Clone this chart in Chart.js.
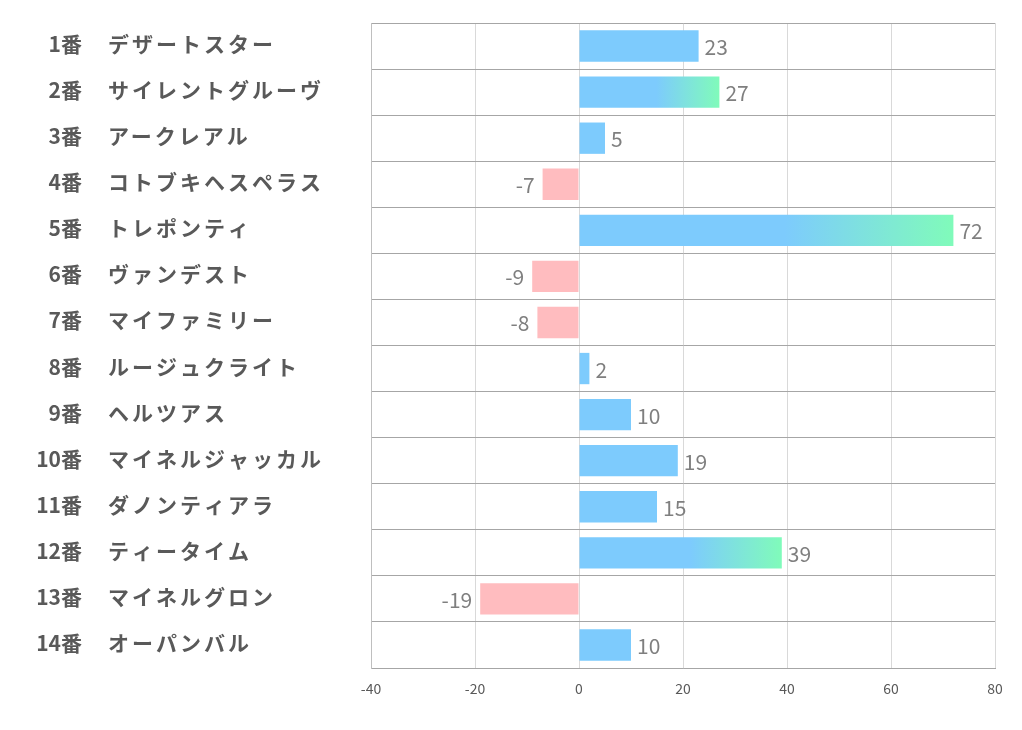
<!DOCTYPE html>
<html>
<head>
<meta charset="utf-8">
<script src="https://cdn.jsdelivr.net/npm/chart.js@4.4.0/dist/chart.umd.min.js"></script>
<style>
    html, body { margin: 0; padding: 0; background: #ffffff; }
    #wrap { width: 1022px; height: 730px; position: relative; }
</style>
</head>
<body>
<div id="wrap"><canvas id="chart" width="1022" height="730"></canvas></div>
<script>
// Data
const horseNumbers = ['1番', '2番', '3番', '4番', '5番', '6番', '7番', '8番', '9番', '10番', '11番', '12番', '13番', '14番'];
const horseNames = ['デザートスター', 'サイレントグルーヴ', 'アークレアル', 'コトブキヘスペラス', 'トレポンティ', 'ヴァンデスト', 'マイファミリー', 'ルージュクライト', 'ヘルツアス', 'マイネルジャッカル', 'ダノンティアラ', 'ティータイム', 'マイネルグロン', 'オーパンバル'];
const scores = [23, 27, 5, -7, 72, -9, -8, 2, 10, 19, 15, 39, -19, 10];
const xTicks = [-40, -20, 0, 20, 40, 60, 80];

const BLUE = '#7dcbfd';
const GREEN = '#80fbba';
const PINK = '#ffbcbf';
const FONT = "'Noto Sans CJK JP', 'Noto Sans', sans-serif";

// bar fill: pink for minus, blue for plus, blue->green fade on the long ones
const barColor = (context) => {
    const v = context.raw;
    if (v < 0) return PINK;
    const chart = context.chart;
    if (v < 25 || !chart.chartArea || !chart.scales.x) return BLUE;
    const xs = chart.scales.x;
    const x0 = xs.getPixelForValue(0);
    const x1 = xs.getPixelForValue(v);
    const g = chart.ctx.createLinearGradient(x0, 0, x1, 0);
    g.addColorStop(0, BLUE);
    g.addColorStop(0.55, BLUE);
    g.addColorStop(1, GREEN);
    return g;
};

// left side labels: number right aligned, name left aligned
const nameLabels = {
    id: 'nameLabels',
    afterDraw(chart) {
        const ctx = chart.ctx;
        const ys = chart.scales.y;
        ctx.save();
        ctx.fillStyle = '#595959';
        ctx.textBaseline = 'middle';
        horseNames.forEach((name, i) => {
            const y = ys.getPixelForTick(i) - 2;
            ctx.font = 'bold 21px ' + FONT;
            ctx.letterSpacing = '0px';
            ctx.textAlign = 'right';
            ctx.fillText(horseNumbers[i], 82, y);
            ctx.letterSpacing = '3px';
            ctx.textAlign = 'left';
            ctx.fillText(name, 108, y);
        });
        ctx.restore();
    }
};

// value labels next to each bar end
const valueLabels = {
    id: 'valueLabels',
    afterDatasetsDraw(chart) {
        const ctx = chart.ctx;
        const meta = chart.getDatasetMeta(0);
        ctx.save();
        ctx.font = '21px ' + FONT;
        ctx.fillStyle = '#7f7f7f';
        ctx.textBaseline = 'middle';
        meta.data.forEach((bar, i) => {
            const v = scores[i];
            if (v < 0) {
                ctx.textAlign = 'right';
                ctx.fillText(String(v), bar.x - 8, bar.y + 1);
            } else {
                ctx.textAlign = 'left';
                ctx.fillText(String(v), bar.x + 6, bar.y + 1);
            }
        });
        ctx.restore();
    }
};

new Chart(document.getElementById('chart'), {
    type: 'bar',
    data: {
        labels: horseNames,
        datasets: [{
            data: scores,
            backgroundColor: barColor,
            borderWidth: 0,
            barPercentage: 0.68,
            categoryPercentage: 1.0
        }]
    },
    options: {
        indexAxis: 'y',
        responsive: false,
        animation: false,
        layout: { padding: { left: 371, right: 27, top: 23, bottom: 0 } },
        plugins: {
            legend: { display: false },
            tooltip: { enabled: false }
        },
        scales: {
            x: {
                min: -40,
                max: 80,
                afterBuildTicks: (scale) => { scale.ticks = xTicks.map(v => ({ value: v })); },
                afterFit: (scale) => { scale.height = 62; },
                grid: { color: '#d9d9d9', lineWidth: 1, drawTicks: false },
                border: { display: true, color: '#a6a6a6', width: 1 },
                ticks: {
                    padding: 12,
                    color: '#595959',
                    font: { family: FONT, size: 14 },
                    maxRotation: 0
                }
            },
            y: {
                offset: true,
                afterFit: (scale) => { scale.width = 0; },
                grid: { color: '#a6a6a6', lineWidth: 1, offset: true, drawTicks: false },
                border: { display: true, color: '#bfbfbf', width: 1 },
                ticks: { display: false }
            }
        }
    },
    plugins: [nameLabels, valueLabels]
});
</script>
</body>
</html>
